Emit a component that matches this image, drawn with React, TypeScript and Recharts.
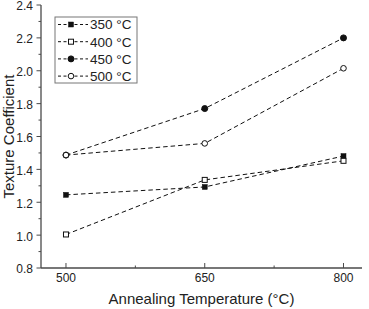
import React from 'react';
import { LineChart, Line, XAxis, YAxis, Label, Customized } from 'recharts';

const temperatures = [500, 650, 800];
const series350 = [1.245, 1.293, 1.481];
const series400 = [1.004, 1.336, 1.452];
const series450 = [1.487, 1.77, 2.2];
const series500 = [1.487, 1.558, 2.015];
const seriesNames = ['350 °C', '400 °C', '450 °C', '500 °C'];
const xTicks = [500, 575, 650, 725, 800];
const xTickLabels = [500, 650, 800];
const yTicks = [0.8, 0.9, 1.0, 1.1, 1.2, 1.3, 1.4, 1.5, 1.6, 1.7, 1.8, 1.9, 2.0, 2.1, 2.2, 2.3, 2.4];
const yTickLabels = ['0.8', '1.0', '1.2', '1.4', '1.6', '1.8', '2.0', '2.2', '2.4'];
const xTitle = 'Annealing Temperature (°C)';
const yTitle = 'Texture Coefficient';

const data = temperatures.map((t, i) => ({
  t,
  s350: series350[i],
  s400: series400[i],
  s450: series450[i],
  s500: series500[i],
}));

const seriesDefs = [
  { key: 's350', name: seriesNames[0], shape: 'square', filled: true },
  { key: 's400', name: seriesNames[1], shape: 'square', filled: false },
  { key: 's450', name: seriesNames[2], shape: 'circle', filled: true },
  { key: 's500', name: seriesNames[3], shape: 'circle', filled: false },
];

const FONT = 'Liberation Sans, Arial, Helvetica, sans-serif';
const INK = '#111';
const AXIS = '#4a4a4a';
const DASH = '4.5 3';

function Marker({ cx, cy, shape, filled }: any) {
  if (cx == null || cy == null) return null;
  if (shape === 'square') {
    const s = 5;
    return (
      <rect x={cx - s / 2} y={cy - s / 2} width={s} height={s}
        fill={filled ? INK : '#fff'} stroke={INK} strokeWidth={filled ? 0.5 : 1} />
    );
  }
  return <circle cx={cx} cy={cy} r={filled ? 3 : 2.8} fill={filled ? INK : '#fff'} stroke={INK} strokeWidth={1} />;
}

function XTick(props: any) {
  const { x, y, payload } = props;
  const major = xTickLabels.includes(payload.value);
  return (
    <g>
      <line x1={x} x2={x} y1={y} y2={y - (major ? 5 : 2.5)} stroke={AXIS} strokeWidth={1} />
      {major && (
        <text x={x} y={y + 14} textAnchor="middle" fontFamily={FONT} fontSize={12} fill="#222">
          {payload.value}
        </text>
      )}
    </g>
  );
}

function YTick(props: any) {
  const { x, y, payload } = props;
  const label = Number(payload.value).toFixed(1);
  const major = yTickLabels.includes(label);
  return (
    <g>
      <line x1={x} x2={x - (major ? 4.5 : 2.5)} y1={y} y2={y} stroke={AXIS} strokeWidth={1} />
      {major && (
        <text x={x - 8} y={y} dy="0.45em" textAnchor="end" fontFamily={FONT} fontSize={12} fill="#222">
          {label}
        </text>
      )}
    </g>
  );
}

function XTitle(props: any) {
  const vb = props.viewBox || {};
  return (
    <text x={vb.x + vb.width / 2} y={vb.y + 36} textAnchor="middle" fontFamily={FONT} fontSize={15} fill="#222">
      {xTitle}
    </text>
  );
}

function YTitle(props: any) {
  const vb = props.viewBox || {};
  const cx = 13.5;
  const cy = vb.y + vb.height / 2;
  return (
    <text x={cx} y={cy} transform={`rotate(-90 ${cx} ${cy})`} textAnchor="middle" fontFamily={FONT} fontSize={15} fill="#222">
      {yTitle}
    </text>
  );
}

function LegendBox() {
  const left = 55;
  const top = 17;
  const rowH = 17.2;
  return (
    <g>
      <rect x={left} y={top} width={82} height={66} fill="#fff" stroke="#777" strokeWidth={1} />
      {seriesDefs.map((s, i) => {
        const cy = top + 7.5 + i * rowH;
        return (
          <g key={s.key}>
            <line x1={left + 3} x2={left + 33} y1={cy} y2={cy} stroke={INK} strokeWidth={1} strokeDasharray="3 2.5" />
            <Marker cx={left + 16} cy={cy} shape={s.shape} filled={s.filled} />
            <text x={left + 35} y={cy} dy="0.36em" fontFamily={FONT} fontSize={13.5} fill="#222">
              {s.name}
            </text>
          </g>
        );
      })}
    </g>
  );
}

export default function App() {
  return (
    <div style={{ position: 'absolute', left: 0, top: 0 }}>
      <LineChart width={369} height={309} data={data} margin={{ top: 5, right: 7, bottom: 0, left: 0 }}>
        <XAxis
          dataKey="t"
          type="number"
          domain={[473, 820]}
          ticks={xTicks}
          interval={0}
          height={41}
          tickSize={0}
          tickMargin={0}
          tickLine={false}
          tick={<XTick />}
          axisLine={{ stroke: AXIS, strokeWidth: 1.3 }}
        >
          <Label content={<XTitle />} />
        </XAxis>
        <XAxis xAxisId="top" orientation="top" type="number" domain={[473, 820]} height={0}
          tick={false} tickLine={false} axisLine={{ stroke: AXIS, strokeWidth: 1.3 }} />
        <YAxis
          type="number"
          domain={[0.8, 2.4]}
          ticks={yTicks}
          interval={0}
          width={41}
          tickSize={0}
          tickMargin={0}
          tickLine={false}
          tick={<YTick />}
          axisLine={{ stroke: AXIS, strokeWidth: 1.3 }}
        >
          <Label content={<YTitle />} />
        </YAxis>
        <YAxis yAxisId="right" orientation="right" type="number" domain={[0.8, 2.4]} width={0}
          tick={false} tickLine={false} axisLine={{ stroke: AXIS, strokeWidth: 1.3 }} />
        {seriesDefs.map((s) => (
          <Line
            key={s.key}
            dataKey={s.key}
            name={s.name}
            stroke={INK}
            strokeWidth={1}
            strokeDasharray={DASH}
            isAnimationActive={false}
            dot={(p: any) => <Marker key={`${s.key}-${p.index}`} cx={p.cx} cy={p.cy} shape={s.shape} filled={s.filled} />}
            activeDot={false}
          />
        ))}
        <Customized component={LegendBox} />
      </LineChart>
    </div>
  );
}
